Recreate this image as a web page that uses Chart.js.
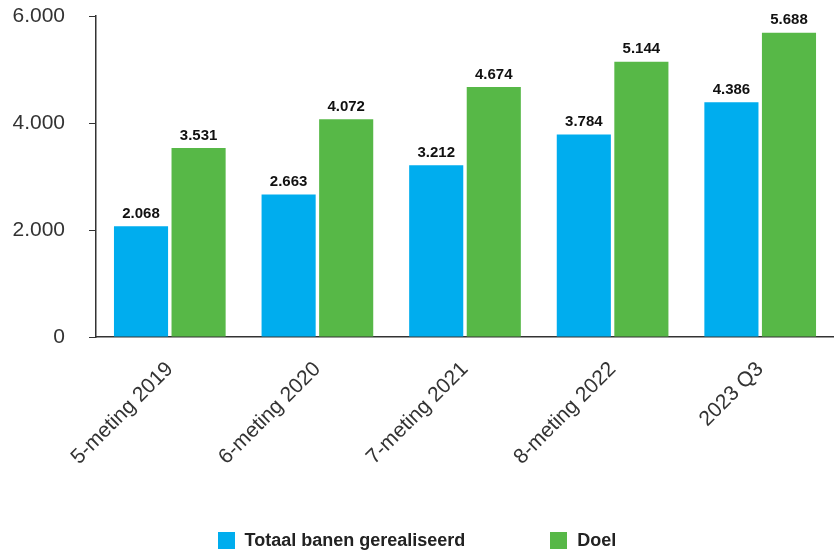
<!DOCTYPE html>
<html>
<head>
<meta charset="utf-8">
<script src="https://cdn.jsdelivr.net/npm/chart.js@4.4.0/dist/chart.umd.min.js"></script>
<style>
  html, body { margin: 0; padding: 0; background: #fff; }
  #wrap { position: relative; width: 834px; height: 552px; }
  #legend {
    position: absolute; left: 0; top: 530px; width: 834px;
    display: flex; justify-content: center; gap: 85px;
    font: bold 18px 'Liberation Sans', Arial, sans-serif; color: #222;
  }
  #legend span { display: flex; align-items: center; }
  #legend i { display: inline-block; width: 17px; height: 17px; margin-right: 10px; }
</style>
</head>
<body>
<div id="wrap">
  <canvas id="chart" width="834" height="552"></canvas>
  <div id="legend"></div>
</div>
<script>
const categories = ["5-meting 2019", "6-meting 2020", "7-meting 2021", "8-meting 2022", "2023 Q3"];
const realised = [2068, 2663, 3212, 3784, 4386];
const target = [3531, 4072, 4674, 5144, 5688];
const yTicks = [0, 2000, 4000, 6000];

const fmt = (v) => v.toLocaleString("nl-NL");
const FONT = "'Liberation Sans', Arial, sans-serif";

//draw value labels on top of each bar
const valueLabels = {
  id: "valueLabels",
  afterDatasetsDraw(chart) {
    const ctx = chart.ctx;
    ctx.save();
    ctx.font = "bold 15px " + FONT;
    ctx.fillStyle = "#111";
    ctx.textAlign = "center";
    ctx.textBaseline = "bottom";
    chart.data.datasets.forEach((ds, i) => {
      chart.getDatasetMeta(i).data.forEach((bar, j) => {
        ctx.fillText(fmt(ds.data[j]), bar.x, bar.y - 5);
      });
    });
    ctx.restore();
  },
};

const chart = new Chart(document.getElementById("chart"), {
  type: "bar",
  data: {
    labels: categories,
    datasets: [
      { label: "Totaal banen gerealiseerd", data: realised, backgroundColor: "#00adee" },
      { label: "Doel", data: target, backgroundColor: "#57b847" },
    ],
  },
  options: {
    responsive: false,
    animation: false,
    layout: { padding: { top: 0, right: 0, left: 0, bottom: 75 } },
    datasets: { bar: { categoryPercentage: 0.78, barPercentage: 0.94 } },
    plugins: {
      tooltip: { enabled: false },
      legend: { display: false },
    },
    scales: {
      x: {
        afterFit: (axis) => { axis.height = 140; },
        grid: { display: false, drawTicks: false },
        border: { color: "#333", width: 1.5 },
        ticks: {
          color: "#333",
          font: { family: FONT, size: 21 },
          maxRotation: 45,
          minRotation: 45,
          padding: 20,
        },
      },
      y: {
        min: 0,
        max: 6000,
        afterFit: (axis) => {
          axis.width = 96;
          //label padding shouldn't push the plot down
          axis.paddingTop = 16;
          axis.paddingBottom = 13;
        },
        afterBuildTicks: (axis) => {
          axis.ticks = yTicks.map((v) => ({ value: v }));
        },
        grid: { display: true, drawOnChartArea: false, tickLength: 7, color: "#333" },
        border: { color: "#333", width: 1.5 },
        ticks: {
          color: "#333",
          font: { family: FONT, size: 21 },
          padding: 24,
          callback: (v) => fmt(v),
        },
      },
    },
  },
  plugins: [valueLabels],
});

//legend built from the datasets
const legend = document.getElementById("legend");
chart.data.datasets.forEach((ds) => {
  const item = document.createElement("span");
  const box = document.createElement("i");
  box.style.background = ds.backgroundColor;
  item.appendChild(box);
  item.appendChild(document.createTextNode(ds.label));
  legend.appendChild(item);
});
</script>
</body>
</html>
